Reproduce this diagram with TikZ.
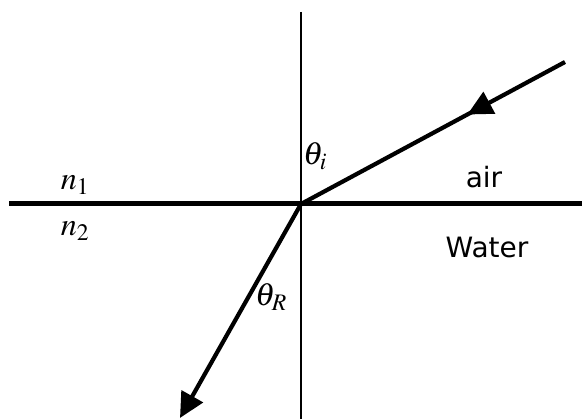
\documentclass[tikz,border=0pt]{standalone}
\usepackage{mathptmx}
\usepackage{fontspec}
\usepackage{tikz}
\usetikzlibrary{arrows.meta,decorations.markings}
\newfontfamily\mediumfont{DejaVu Sans}
\tikzset{
  normalline/.style={line width=2.4pt, black},
  surface/.style={line width=5pt, black},
  rayline/.style={line width=4.2pt, black},
  raytip/.style={-{Triangle[length=25pt, width=24pt]}},
  midtip/.style={postaction={decorate}, decoration={markings,
    mark=at position #1 with {\arrow{Triangle[length=25pt, width=24pt]}}}},
  midtip/.default=0.37,
  medlabel/.style={font=\mediumfont\fontsize{28}{32}\selectfont, inner sep=0pt},
  mathlabel/.style={font=\fontsize{32}{36}\selectfont, inner sep=0pt},
}
\begin{document}
\begin{tikzpicture}[x=1pt, y=-1pt]
  \useasboundingbox (0,0) rectangle (582,419);
  % interface and normal
  \coordinate (o) at (301,204);
  \coordinate (ntop) at (301,12);
  \coordinate (nbot) at (301,419);
  \coordinate (sl) at (9,204);
  \coordinate (sr) at (582,204);
  \draw[normalline] (ntop) -- (nbot);
  \draw[surface] (sl) -- (sr);
  % rays
  \coordinate (src) at (565,62);
  \coordinate (dst) at (180,418);
  \draw[rayline, midtip] (src) -- (o);
  \draw[rayline, raytip] (o) -- (dst);
  % labels
  \node[mathlabel] (thi) at (315,156) {$\theta_i$};
  \node[mathlabel] (thr) at (271,297) {$\theta_R$};
  \node[mathlabel] (n1) at (75,185) {$n_1$};
  \node[mathlabel] (n2) at (75,231) {$n_2$};
  \node[medlabel] (air) at (484,177) {air};
  \node[medlabel] (water) at (487,247) {Water};
\end{tikzpicture}
\end{document}
